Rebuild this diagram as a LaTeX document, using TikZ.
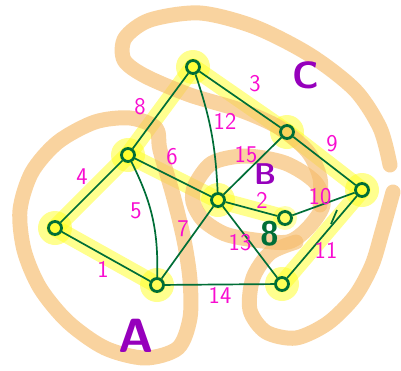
\documentclass[tikz,border=0pt]{standalone}
\usepackage{tikz}
\usetikzlibrary{positioning}
\definecolor{edgegreen}{RGB}{0,110,55}
\definecolor{weightpink}{RGB}{248,12,208}
\definecolor{clusterorange}{RGB}{246,188,108}
\definecolor{glowyellow}{RGB}{255,255,30}
\definecolor{clusterpurple}{RGB}{150,0,188}

\tikzset{
  vertex/.style={circle,draw=edgegreen,line width=2.8pt,minimum size=13pt,inner sep=0pt},
  edge/.style={edgegreen,line width=1.7pt},
  glow/.style={glowyellow,opacity=0.5,line width=17pt,line cap=round},
  blob/.style={clusterorange,opacity=0.65,line width=15pt,line cap=round,line join=round},
  wlabel/.style={text=weightpink,font=\sffamily\fontsize{24}{24}\selectfont,inner sep=0pt},
  cname/.style={text=clusterpurple,font=\sffamily\bfseries\fontsize{#1}{#1}\selectfont,inner sep=0pt},
}

\begin{document}
\begin{tikzpicture}[x=1pt,y=-1pt]
  \useasboundingbox (0,0) rectangle (401,370);
  % vertex positions
  \coordinate (p1) at (193,67);
  \coordinate (p2) at (128,155);
  \coordinate (p3) at (55,228);
  \coordinate (p4) at (157,285);
  \coordinate (p5) at (218,200);
  \coordinate (p6) at (287,132);
  \coordinate (p7) at (362,190);
  \coordinate (p8) at (285,218);
  \coordinate (p9) at (282,284);

  % highlighted tree
  \foreach \a/\b in {p3/p4,p2/p3,p2/p5,p1/p2,p1/p6,p6/p7,p9/p7,p5/p8}
    \draw[glow] (\a) -- (\b);
  \foreach \p in {p1,p2,p3,p4,p5,p6,p7,p9}
    \fill[glowyellow,opacity=0.5] (\p) circle (17);
  \fill[glowyellow,opacity=0.35] (p8) circle (12);

  % clusters
  \draw[blob] plot[smooth cycle] coordinates {(160,150) (156,128) (130,118) (95,122) (58,142) (32,172) (20,210) (24,250) (40,288) (68,322) (105,348) (145,358) (178,348) (190,318) (190,280) (184,240) (173,195)};
  \draw[blob] plot[smooth] coordinates {(390,165) (380,128) (355,90) (310,55) (255,27) (200,13) (150,20) (125,38) (124,60) (145,76) (190,95) (240,110) (280,128) (308,152) (320,178) (320,205)};
  \draw[blob] plot[smooth cycle] coordinates {(195,185) (212,163) (245,156) (285,163) (315,182) (323,205) (308,228) (288,242) (255,240) (225,234) (203,220) (193,202)};
  \draw[blob] plot[smooth] coordinates {(296,242) (270,253) (253,278) (250,310) (266,332) (296,338) (328,323) (355,296) (372,265) (382,232) (393,192)};

  % vertices
  \foreach \i in {1,...,9}
    \node[vertex] (v\i) at (p\i) {};

  % edges
  \draw[edge] (v3) -- (v4);
  \draw[edge] (v5) -- (v8);
  \draw[edge] (v1) -- (v6);
  \draw[edge] (v2) -- (v3);
  \draw[edge] (v2) to[bend left=14] (v4);
  \draw[edge] (v2) -- (v5);
  \draw[edge] (v5) -- (v4);
  \draw[edge] (v1) -- (v2);
  \draw[edge] (v6) -- (v7);
  \draw[edge] (v8) -- (v7);
  \draw[edge] (v9) -- (v7);
  \draw[edge] (v1) to[bend left=8] (v5);
  \draw[edge] (v5) -- (v9);
  \draw[edge] (v4) -- (v9);
  \draw[edge] (v5) -- (v6);
  \draw[edge] (337,210) -- (331,224);

  % weights
  \node[wlabel] (w1) at (103,269) {1};
  \node[wlabel] (w2) at (262,200) {2};
  \node[wlabel] (w3) at (255,84) {3};
  \node[wlabel] (w4) at (82,177) {4};
  \node[wlabel] (w5) at (136,211) {5};
  \node[wlabel] (w6) at (172,157) {6};
  \node[wlabel] (w7) at (183,229) {7};
  \node[wlabel] (w8) at (140,107) {8};
  \node[wlabel] (w9) at (332,144) {9};
  \node[wlabel] (w10) at (320,197) {10};
  \node[wlabel] (w11) at (326,250) {11};
  \node[wlabel] (w12) at (225,121) {12};
  \node[wlabel] (w13) at (240,243) {13};
  \node[wlabel] (w14) at (220,295) {14};
  \node[wlabel] (w15) at (246,155) {15};

  % cluster names
  \node[cname=48] (ca) at (136,336) {A};
  \node[cname=30] (cb) at (265,174) {B};
  \node[cname=38] (cc) at (306,75) {C};
  \node[text=edgegreen,font=\sffamily\bfseries\fontsize{34}{34}\selectfont,inner sep=0pt] (n8) at (270,234) {8};
\end{tikzpicture}
\end{document}
